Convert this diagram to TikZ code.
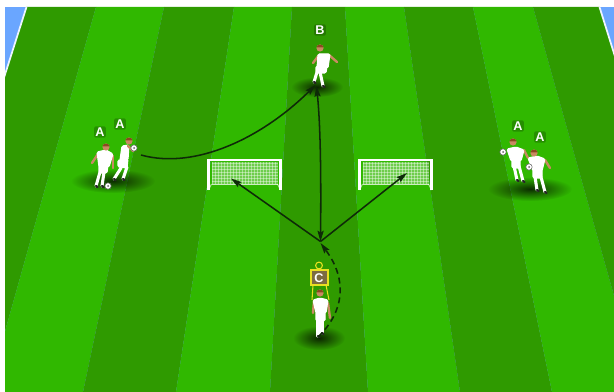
\documentclass[tikz,border=0pt]{standalone}
\usepackage{fontspec}
\setmainfont{Liberation Sans}
\usetikzlibrary{arrows.meta,fadings}
\definecolor{darkturf}{HTML}{2F9A00}
\definecolor{lightturf}{HTML}{30B800}
\definecolor{sky}{HTML}{6AA6FF}
\definecolor{skin}{HTML}{C88A62}
\definecolor{hair}{HTML}{8A4A20}
\definecolor{ink}{HTML}{0E2A08}
\definecolor{mannequin}{HTML}{E8E020}
\definecolor{board}{HTML}{7C6C40}
\tikzfading[name=softshadow,inner color=transparent!25,outer color=transparent!100]
\tikzset{
  x=0.75pt,y=-0.75pt,
  lab/.style={font=\bfseries\fontsize{9.5}{10}\selectfont,text=white,fill=black,fill opacity=.22,text opacity=1,rounded corners=1.5pt,inner sep=1pt},
  arm/.style={draw=skin,line width=1.8pt,line cap=round},
  sock/.style={draw=white,line width=2.3pt,line cap=round},
  boot/.style={draw=black!85,line width=1.7pt,line cap=round},
  kit/.style={fill=white,draw=white,line width=.8pt,line join=round,rounded corners=1pt},
  headball/.style={fill=skin},
  hairtop/.style={fill=hair},
  ballw/.style={fill=white,draw=black!60,line width=.4pt},
  ground/.style={fill=black,path fading=softshadow},
  tip/.tip={Stealth[length=8pt,width=4.6pt,inset=1.2pt]},
  pass/.style={draw=ink,line width=1.15pt,-tip},
  post/.style={draw=white,line width=1.7pt},
  netline/.style={draw=white,opacity=.4,line width=.25pt},
  turfd/.style={fill=darkturf},
  turfl/.style={fill=lightturf},
}
\newcommand{\figleg}[2]{\draw[sock] #1 -- #2;\draw[boot] #2 -- ++(1.5,1);}
\newcommand{\headat}[1]{\fill[headball] #1 circle (3.6);\fill[hairtop] #1 ++(-3.5,-.6) arc (180:360:3.5 and 2.8) -- cycle;}
\newcommand{\ballat}[1]{\draw[ballw] #1 circle (3.2);\fill[black!60] #1 circle (1);}
\newcommand{\goalat}[2]{%
  \begin{scope}[shift={(#1,#2)}]
    \fill[white,opacity=.3] (4,2) rectangle (70,24);
    \foreach \u in {5,8,...,69}{\draw[netline] (\u,2) -- (\u,24);}
    \foreach \v in {3,6,...,24}{\draw[netline] (4,\v) -- (70,\v);}
    \draw[post] (1,30) -- (1,0) -- (73,0) -- (73,30);
    \draw[white,opacity=.6,line width=.7pt] (4,24) -- (70,24);
    \draw[white,opacity=.6,line width=.7pt] (1,30) -- (4,24) (73,30) -- (70,24);
  \end{scope}}
\begin{document}
\begin{tikzpicture}
\useasboundingbox (0,0) rectangle (614,392);
\fill[white] (0,0) rectangle (614,392);
\begin{scope}
  \clip (5,7) rectangle (614,392);
  \fill[sky] (5,7) rectangle (614,392);
  \fill[turfd] (26.5,7) -- (96,7) -- (-12,392) -- (-96,392) -- cycle;
  \fill[turfl] (96,7) -- (164,7) -- (83,392) -- (-12,392) -- cycle;
  \fill[turfd] (164,7) -- (234,7) -- (176,392) -- (83,392) -- cycle;
  \fill[turfl] (234,7) -- (292,7) -- (270,392) -- (176,392) -- cycle;
  \fill[turfd] (292,7) -- (345,7) -- (368,392) -- (270,392) -- cycle;
  \fill[turfl] (345,7) -- (404,7) -- (460,392) -- (368,392) -- cycle;
  \fill[turfd] (404,7) -- (473,7) -- (552,392) -- (460,392) -- cycle;
  \fill[turfl] (473,7) -- (533,7) -- (641,392) -- (552,392) -- cycle;
  \fill[turfd] (533,7) -- (599.5,7) -- (720,392) -- (641,392) -- cycle;
  \draw[white!88!sky,line width=1.3pt] (26.5,7) -- (-96,392);
  \draw[white!88!sky,line width=1.3pt] (599.5,7) -- (720,392);
\end{scope}

% ground shadows
\fill[ground] (113,181) ellipse (42 and 12);
\fill[ground] (530,189) ellipse (42 and 12);
\fill[ground] (317,87) ellipse (26 and 10);
\fill[ground] (319,338) ellipse (26 and 12);

% goals
\goalat{207.5}{160}
\goalat{358.5}{160}

% left pair
\figleg{(127,167)}{(123,179)}
\figleg{(121,168)}{(114,179)}
\fill[kit] (118,160) -- (128,159) -- (127,168) -- (118,167) -- cycle;
\fill[kit] (122,146) -- (129,145) -- (128,160) -- (120,160) -- cycle;
\draw[arm] (128,146) -- (133,151);
\headat{(129,141)}
\ballat{(134,148)}
\figleg{(104,172)}{(102,186)}
\figleg{(100,172)}{(96,186)}
\draw[arm] (98,154) -- (92,163);
\draw[arm] (113,156) -- (113,168);
\fill[kit] (99,165) -- (108,165) -- (107,173) -- (99,173) -- cycle;
\fill[kit] (97,152) -- (106,150) -- (113,154) -- (109,167) -- (99,167) -- cycle;
\headat{(106,147)}
\ballat{(108,186)}
\node[lab] (a1) at (100,132) {A};
\node[lab] (a2) at (120,124) {A};

% B
\figleg{(320,72)}{(323,86)}
\figleg{(317,72)}{(314,82)}
\draw[arm] (319,55) -- (313,63);
\draw[arm] (329,55) -- (337,62);
\fill[kit] (316,66) -- (327,66) -- (326,73) -- (316,73) -- cycle;
\fill[kit] (318,54) -- (330,54) -- (328,68) -- (317,68) -- cycle;
\headat{(320,48)}
\node[lab] (b) at (320,30) {B};

% right pair
\figleg{(514,166)}{(517,180)}
\figleg{(519,166)}{(523,181)}
\draw[arm] (524,150) -- (528,158);
\fill[kit] (512,159) -- (520,159) -- (520,168) -- (512,168) -- cycle;
\fill[kit] (507,149) -- (516,147) -- (524,150) -- (521,161) -- (511,161) -- cycle;
\headat{(513,142)}
\ballat{(503,152)}
\figleg{(535,177)}{(537,190)}
\figleg{(541,177)}{(545,192)}
\draw[arm] (545,160) -- (550,168);
\fill[kit] (533,169) -- (542,169) -- (542,178) -- (533,178) -- cycle;
\fill[kit] (528,158) -- (537,156) -- (545,159) -- (542,171) -- (533,171) -- cycle;
\headat{(534,153)}
\ballat{(529,167)}
\node[lab] (a3) at (518,126) {A};
\node[lab] (a4) at (540,137) {A};

% mannequin C
\draw[mannequin,line width=.8pt] (319,265.5) circle (3.4);
\draw[mannequin,line width=.8pt,fill=board] (311,270) rectangle (328,285);
\draw[mannequin,line width=.8pt] (313,285) -- (312,300) (326,285) -- (329,300);
\node[font=\bfseries\fontsize{9.5}{10}\selectfont,text=white,inner sep=0pt] (c) at (319,278) {C};

% C player
\figleg{(322,320)}{(322,333)}
\figleg{(318,320)}{(318,336)}
\draw[arm] (314,301) -- (313,313);
\draw[arm] (328,303) -- (330,318);
\fill[kit] (316,311) -- (325,311) -- (325,321) -- (316,321) -- cycle;
\fill[kit] (313,300) -- (320,298) -- (328,300) -- (326,313) -- (316,313) -- cycle;
\headat{(320,293)}

% connector anchors
\coordinate (from) at (141,155);
\coordinate (bfoot) at (315.5,85);
\coordinate (bline) at (316.5,86);
\coordinate (centre) at (320.5,241.5);
\coordinate (goalL) at (231,178.5);
\coordinate (goalR) at (407,173);
\coordinate (cfoot) at (318,337);
\coordinate (dashend) at (320.5,243);

\draw[pass] (from) .. controls (195,170) and (262,138) .. (bfoot);
\draw[pass,tip-tip] (bline) .. controls (321,130) and (321,190) .. (centre);
\draw[pass] (centre) -- (goalL);
\draw[pass] (centre) -- (goalR);
\draw[pass,dash pattern=on 4.5pt off 3pt] (cfoot) .. controls (344,312) and (348,280) .. (dashend);
\end{tikzpicture}
\end{document}
